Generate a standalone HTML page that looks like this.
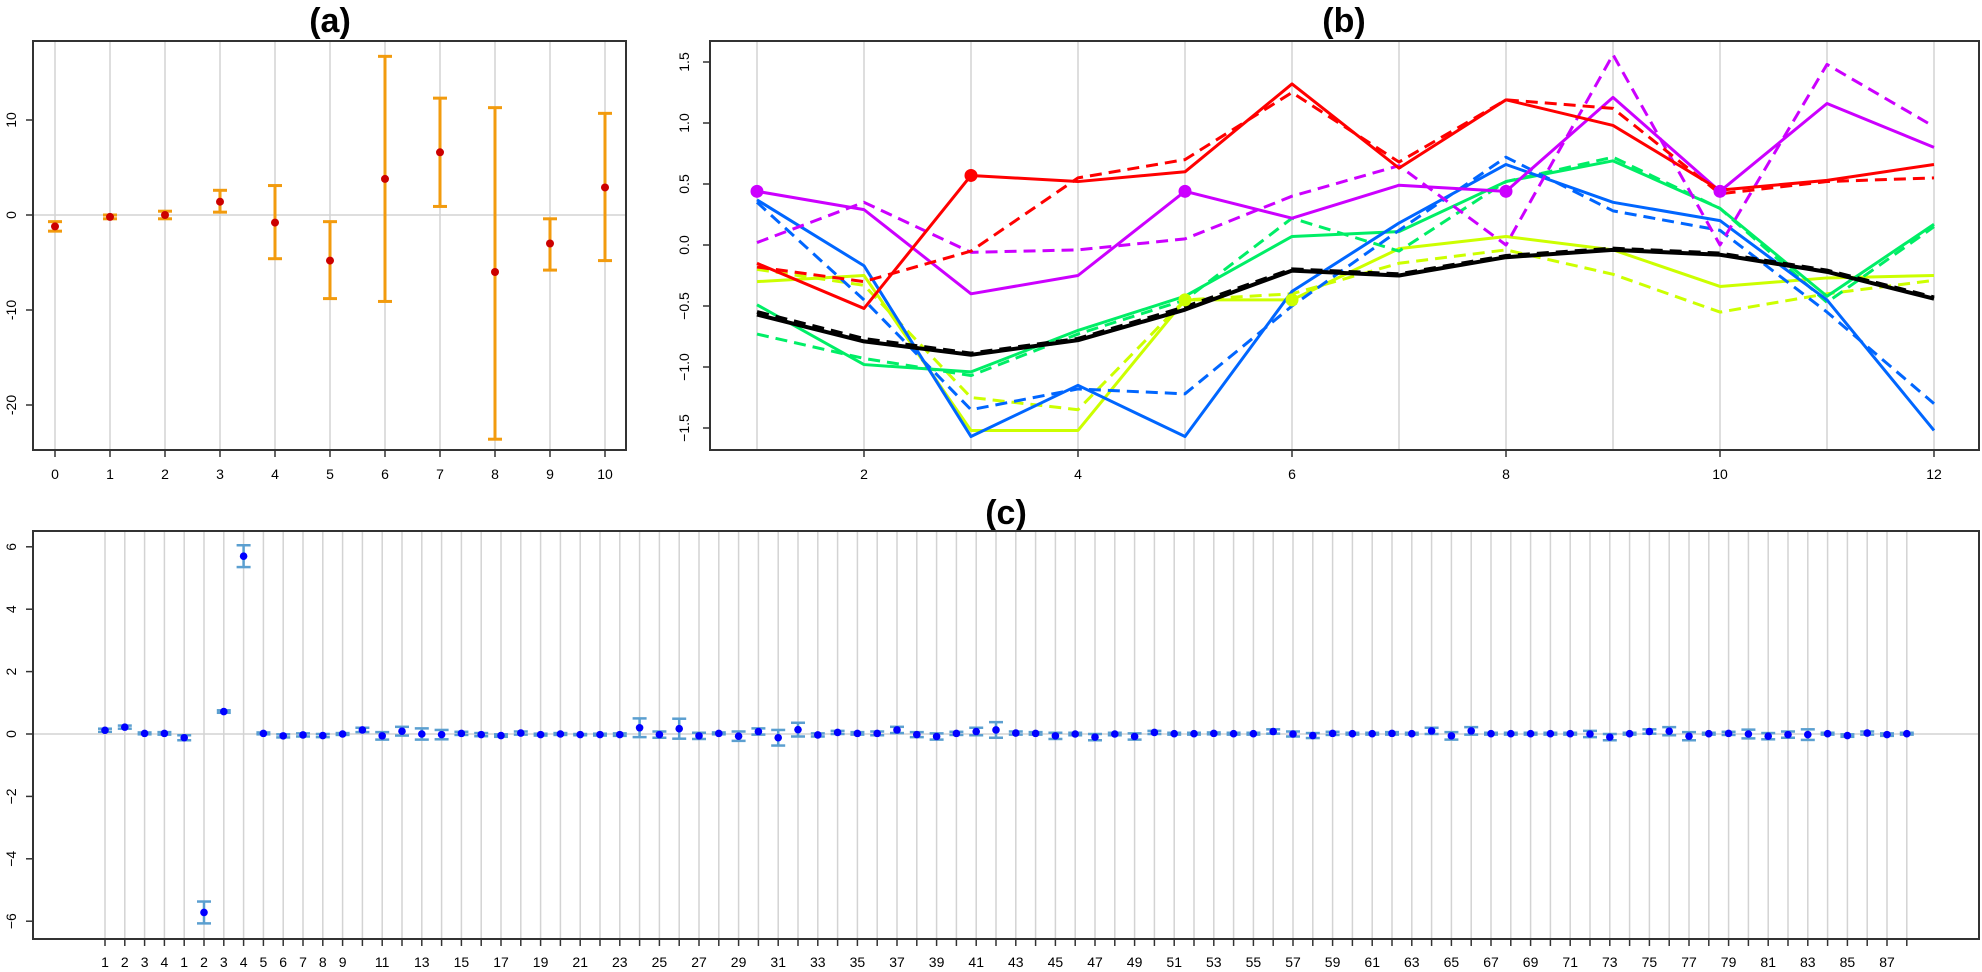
<!DOCTYPE html>
<html><head><meta charset="utf-8"><style>
html,body{margin:0;padding:0;background:#fff;}
svg{display:block;font-family:"Liberation Sans",Arial,sans-serif;}
</style></head><body>
<svg id="s" width="1982" height="972" viewBox="0 0 1982 972" xmlns="http://www.w3.org/2000/svg">
<text x="330" y="32" font-size="34" font-weight="bold" text-anchor="middle">(a)</text>
<text x="1344" y="32" font-size="34" font-weight="bold" text-anchor="middle">(b)</text>
<text x="1006" y="524" font-size="34" font-weight="bold" text-anchor="middle">(c)</text>
</svg>
<script>
var S=document.getElementById('s'),NS='http://www.w3.org/2000/svg';
function el(t,a,txt){var e=document.createElementNS(NS,t);for(var k in a)e.setAttribute(k,a[k]);if(txt!==undefined)e.textContent=txt;S.appendChild(e);return e;}
function line(x1,y1,x2,y2,c,w,extra){var a={x1:x1,y1:y1,x2:x2,y2:y2,stroke:c,'stroke-width':w};if(extra)for(var k in extra)a[k]=extra[k];return el('line',a);}
function ylab(x,y,t){el('text',{x:x,y:y,'font-size':14,'text-anchor':'middle',transform:'rotate(-90 '+x+' '+y+')'},t);}
function xlab(x,y,t){el('text',{x:x,y:y,'font-size':14,'text-anchor':'middle'},t);}
var G='#d3d3d3',BX='#333';
// ---------- (a)
(function(){
 var L=33,T=41,R=626,B=450;
 function X(k){return 55+55*k;} function Y(v){return 215-9.5*v;}
 for(var k=0;k<=10;k++)line(X(k),T,X(k),B,G,1.5);
 line(L,Y(0),R,Y(0),G,1.5);
 var d=[[-1.2,-1.7,-0.7],[-0.2,-0.4,0],[0,-0.4,0.4],[1.4,0.3,2.6],[-0.8,-4.6,3.1],[-4.8,-8.8,-0.7],[3.8,-9.1,16.7],[6.6,0.9,12.3],[-6,-23.6,11.3],[-3,-5.8,-0.4],[2.9,-4.8,10.7]];
 d.forEach(function(p,k){var x=X(k);
  line(x,Y(p[1]),x,Y(p[2]),'#f29b0e',3);
  line(x-7,Y(p[1]),x+7,Y(p[1]),'#f29b0e',3);line(x-7,Y(p[2]),x+7,Y(p[2]),'#f29b0e',3);
  el('circle',{cx:x,cy:Y(p[0]),r:4,fill:'#cc0000'});});
 el('rect',{x:L,y:T,width:R-L,height:B-T,fill:'none',stroke:BX,'stroke-width':2});
 for(k=0;k<=10;k++){line(X(k),B,X(k),B+7,BX,1.5);xlab(X(k),479,k);}
 [10,0,-10,-20].forEach(function(v){line(L,Y(v),L-7,Y(v),BX,1.5);ylab(16,Y(v),v);});
})();
// ---------- (b)
(function(){
 var L=710,T=41,R=1979,B=450;
 function X(k){return 757+107*(k-1);} function Y(v){return 245-122*v;}
 for(var k=1;k<=12;k++)line(X(k),T,X(k),B,G,1.5);
 var ser=[
  ['#ccff00',0,[-0.30,-0.25,-1.52,-1.52,-0.45,-0.45,-0.03,0.07,-0.04,-0.34,-0.27,-0.25]],
  ['#ccff00',1,[-0.20,-0.33,-1.25,-1.35,-0.45,-0.40,-0.15,-0.04,-0.24,-0.55,-0.40,-0.29]],
  ['#00ee66',0,[-0.49,-0.98,-1.04,-0.70,-0.42,0.07,0.11,0.52,0.69,0.30,-0.42,0.17]],
  ['#00ee66',1,[-0.73,-0.93,-1.07,-0.73,-0.45,0.22,-0.05,0.52,0.72,0.30,-0.47,0.15]],
  ['#0066ff',0,[0.37,-0.17,-1.57,-1.15,-1.57,-0.38,0.18,0.66,0.35,0.20,-0.45,-1.52]],
  ['#0066ff',1,[0.35,-0.45,-1.35,-1.18,-1.22,-0.50,0.12,0.72,0.28,0.12,-0.55,-1.30]],
  ['#cc00ff',0,[0.44,0.29,-0.40,-0.25,0.44,0.22,0.49,0.44,1.21,0.44,1.16,0.80]],
  ['#cc00ff',1,[0.02,0.35,-0.06,-0.04,0.05,0.40,0.65,0.00,1.56,0.00,1.48,0.97]],
  ['#ff0000',0,[-0.15,-0.52,0.57,0.52,0.60,1.32,0.63,1.19,0.98,0.45,0.53,0.66]],
  ['#ff0000',1,[-0.18,-0.30,-0.05,0.55,0.70,1.25,0.68,1.19,1.12,0.42,0.52,0.55]],
  ['#000000',0,[-0.57,-0.79,-0.90,-0.78,-0.53,-0.21,-0.25,-0.10,-0.04,-0.08,-0.22,-0.44]],
  ['#000000',1,[-0.55,-0.77,-0.89,-0.77,-0.51,-0.20,-0.24,-0.09,-0.03,-0.07,-0.21,-0.43]]];
 ser.forEach(function(s){var pts=s[2].map(function(v,i){return X(i+1)+','+Y(v);}).join(' ');
  var a={points:pts,fill:'none',stroke:s[0],'stroke-width':s[0]=='#000000'?4:3,'stroke-linejoin':'round'};
  if(s[1])a['stroke-dasharray']='12 7';el('polyline',a);});
 [[5,-0.45,'#ccff00'],[6,-0.45,'#ccff00'],[3,0.57,'#ff0000'],[1,0.44,'#cc00ff'],[5,0.44,'#cc00ff'],[8,0.44,'#cc00ff'],[10,0.44,'#cc00ff']].forEach(function(p){el('circle',{cx:X(p[0]),cy:Y(p[1]),r:6.5,fill:p[2]});});
 el('rect',{x:L,y:T,width:R-L,height:B-T,fill:'none',stroke:BX,'stroke-width':2});
 for(k=2;k<=12;k+=2){line(X(k),B,X(k),B+7,BX,1.5);xlab(X(k),479,k);}
 [1.5,1.0,0.5,0.0,-0.5,-1.0,-1.5].forEach(function(v){line(L,Y(v),L-7,Y(v),BX,1.5);ylab(689,Y(v),(v<0?'\u2212':'')+Math.abs(v).toFixed(1));});
})();
// ---------- (c)
(function(){
 var L=33,T=531,R=1979,B=939;
 function X(i){return 105+19.8*i;} function Y(v){return 734-31.2*v;}
 var labs=[1,2,3,4,1,2,3,4];for(var n=5;n<=88;n++)labs.push(n);
 for(var i=0;i<92;i++)line(X(i),T,X(i),B,G,1.5);
 line(L,Y(0),R,Y(0),G,1.5);
 var d=[[.12,.05],[.22,.05],[.02,.03],[.02,.04],[-.12,.08],[-5.72,.35],[.72,.04],[5.7,.35],[.02,.03],[-.06,.05],[-.03,.05],[-.05,.05],[0,.03],[.13,.07],[-.06,.12],[.09,.14],[0,.18],[-.02,.15],[.02,.05],[-.02,.05],[-.05,.04],[.03,.05],[-.02,.03],[0,.03],[-.02,.02],[-.02,.03],[-.02,.04],[.2,.3],[-.02,.1],[.17,.32],[-.06,.1],[.02,.03],[-.07,.15],[.08,.1],[-.12,.25],[.14,.22]];
 var rest={37:[-.03,.05],38:[.05,.05],39:[.02,.04],40:[.02,.06],41:[.13,.1],42:[-.02,.08],43:[-.08,.1],44:[.02,.05],45:[.08,.12],46:[.13,.25],47:[.03,.05],48:[.02,.04],49:[-.06,.1],50:[0,.04],51:[-.1,.1],52:[0,.04],53:[-.08,.1],54:[.05,.05],57:[.02,.03],60:[.08,.07],61:[0,.08],62:[-.05,.08],63:[.02,.05],66:[.02,.04],68:[.1,.1],69:[-.06,.12],70:[.1,.12],76:[0,.1],77:[-.1,.1],79:[.08,.07],80:[.09,.13],81:[-.07,.13],83:[.02,.05],84:[0,.14],85:[-.07,.1],86:[-.02,.1],87:[-.02,.17],90:[.03,.05],91:[-.02,.04],89:[-.05,.04]};
 for(i=36;i<92;i++){d[i]=rest[i+1]||[0.01,0.03];}
 d.forEach(function(p,i){var x=X(i),c='#5b9fd0';
  line(x,Y(p[0]-p[1]),x,Y(p[0]+p[1]),c,2.5);
  line(x-7,Y(p[0]-p[1]),x+7,Y(p[0]-p[1]),c,2.5);line(x-7,Y(p[0]+p[1]),x+7,Y(p[0]+p[1]),c,2.5);
  el('circle',{cx:x,cy:Y(p[0]),r:3.8,fill:'#0000ff'});});
 el('rect',{x:L,y:T,width:R-L,height:B-T,fill:'none',stroke:BX,'stroke-width':2});
 for(i=0;i<92;i++){line(X(i),B,X(i),B+7,BX,1.5);
  var n=labs[i];if(i<13||(n%2==1))xlab(X(i),967,n);}
 [6,4,2,0,-2,-4,-6].forEach(function(v){line(L,Y(v),L-7,Y(v),BX,1.5);ylab(16,Y(v),(v<0?'\u2212':'')+Math.abs(v));});
})();
</script>
</body></html>
